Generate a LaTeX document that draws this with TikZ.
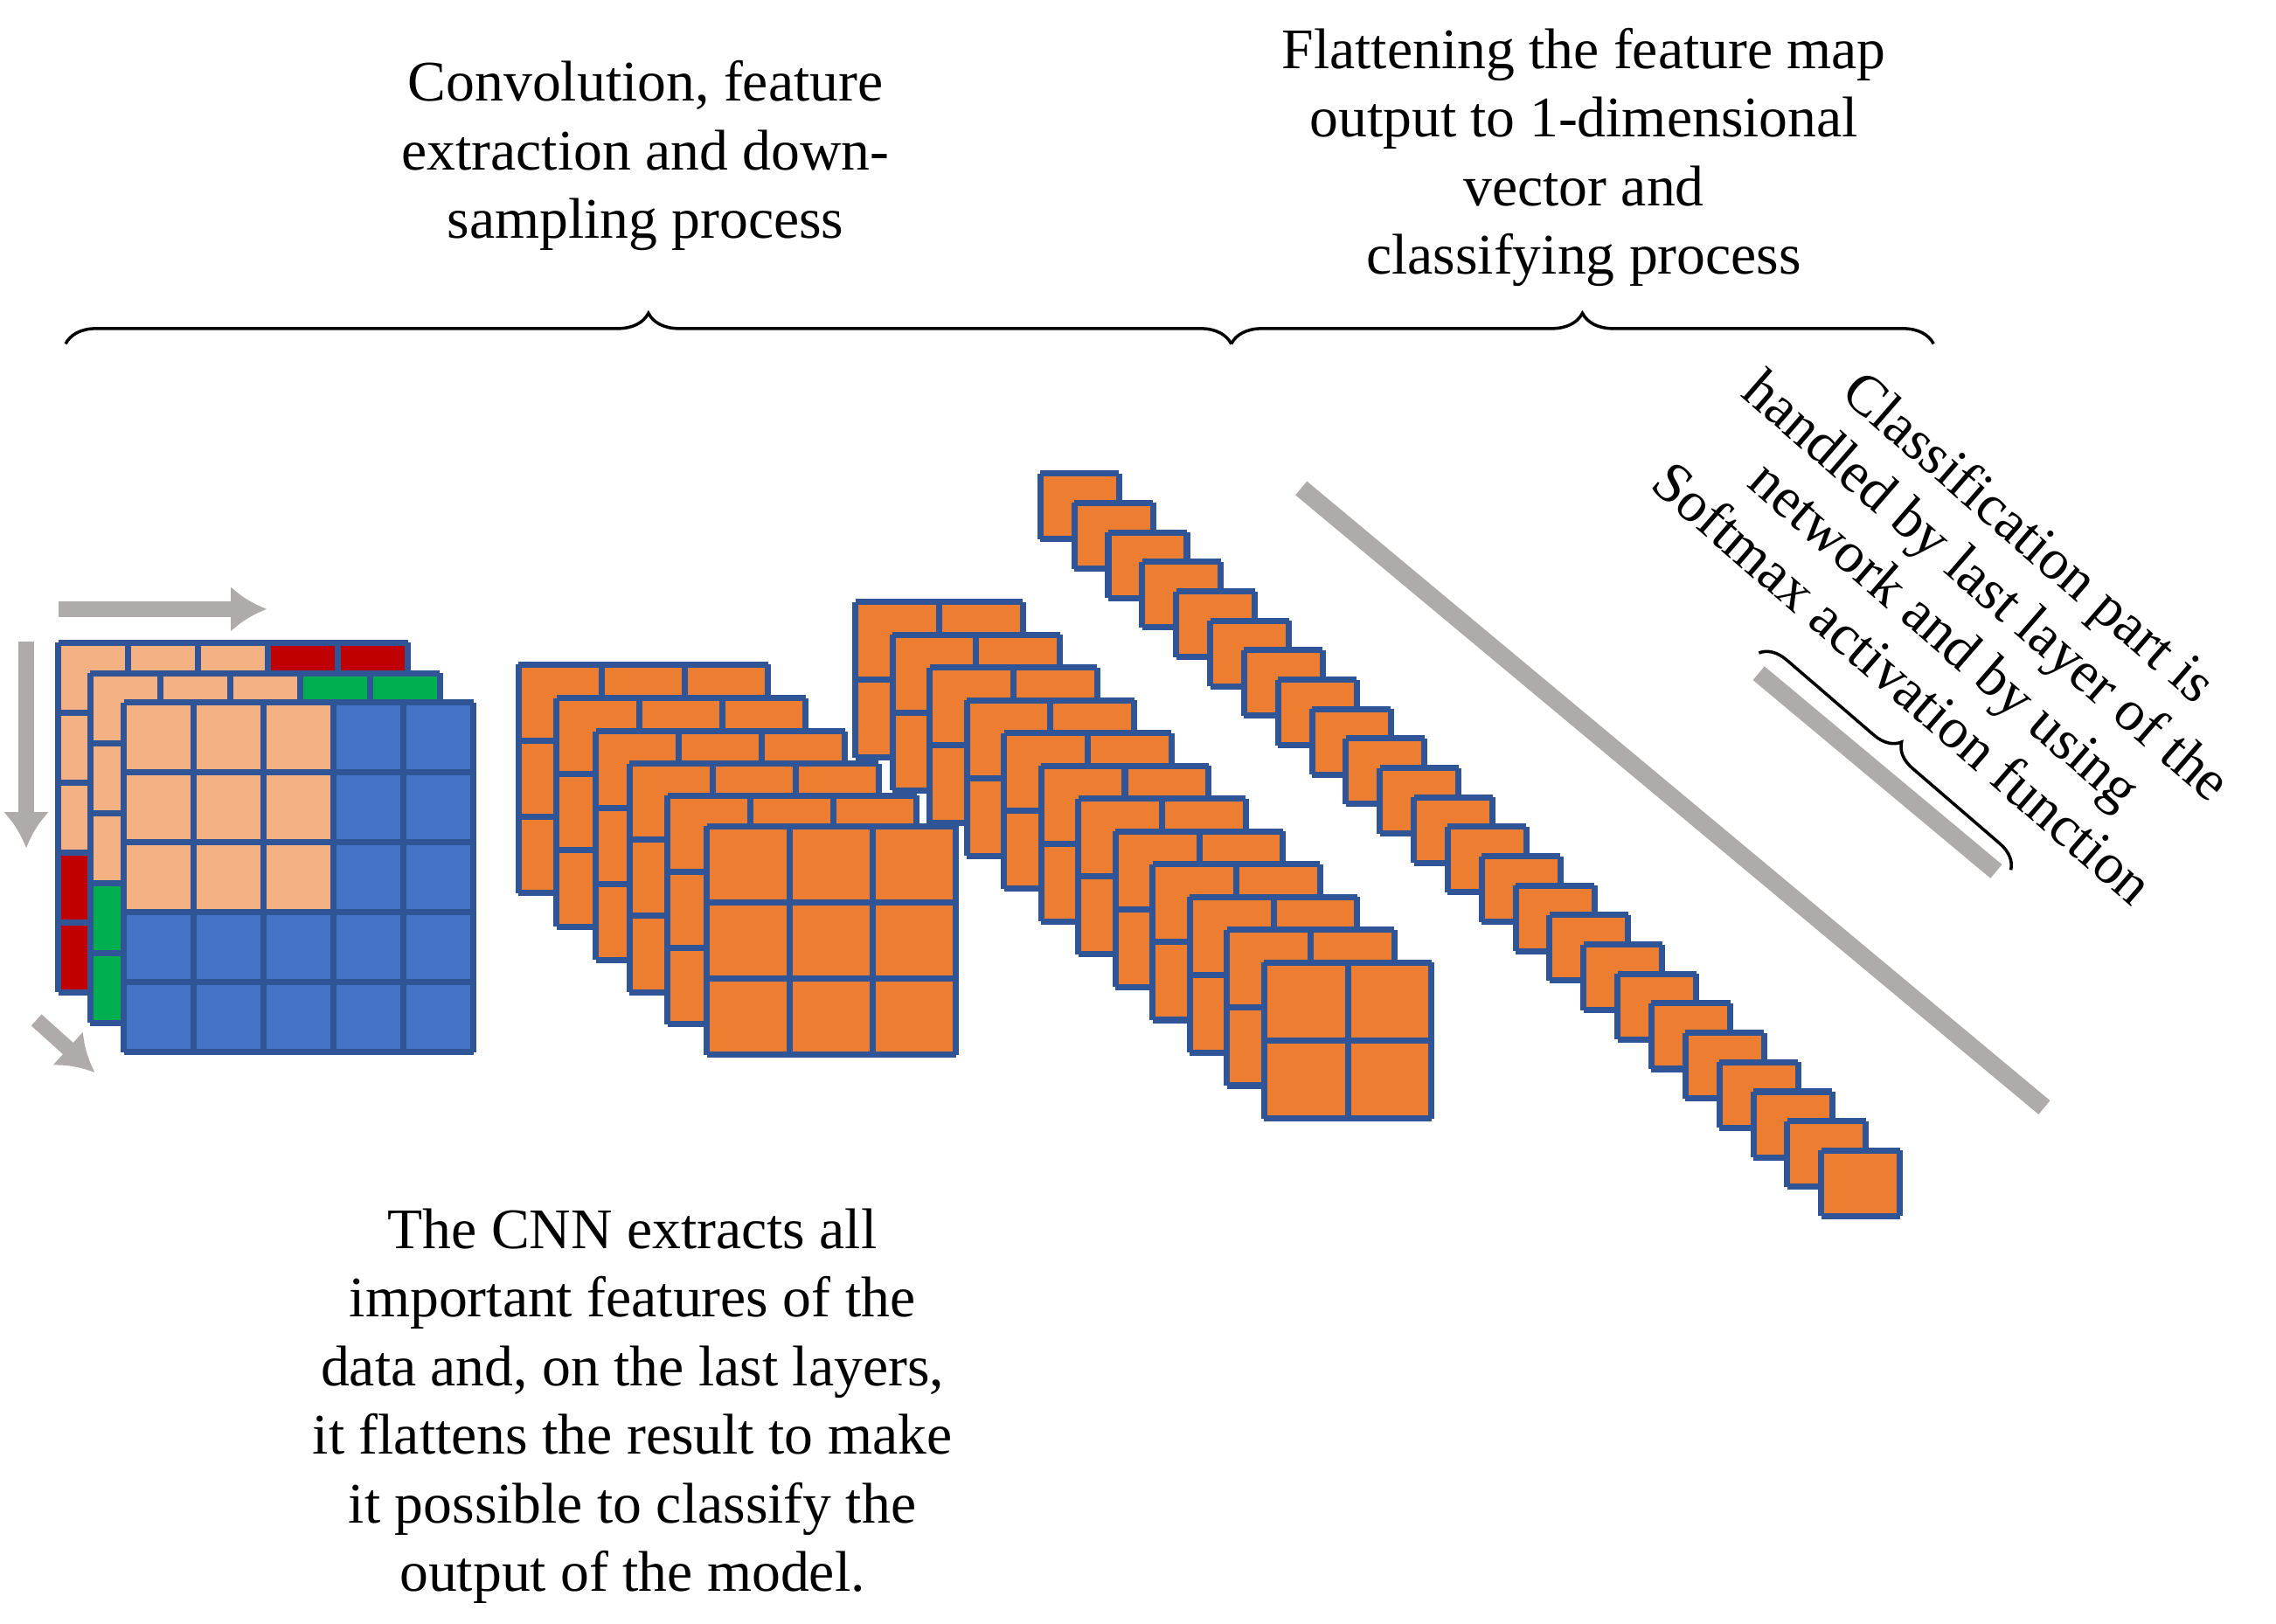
\documentclass[tikz,border=0pt]{standalone}
\usepackage{fontspec}
\setmainfont{Liberation Serif}
\usetikzlibrary{decorations.pathreplacing,arrows.meta}
\definecolor{org}{HTML}{ED7D31}
\definecolor{bord}{HTML}{2F5597}
\definecolor{peach}{HTML}{F4B183}
\definecolor{blu}{HTML}{4472C4}
\definecolor{rd}{HTML}{C00000}
\definecolor{gr}{HTML}{00B050}
\definecolor{gry}{HTML}{AFABAB}
\tikzset{txt/.style={align=center,font=\fontsize{11.2}{13.4}\selectfont},
 garrow/.style={draw=gry,line width=3pt,-{Latex[length=7pt,width=9pt]}},
 gline/.style={draw=gry,line width=3.5pt},
 br/.style={decorate,decoration={brace,mirror,amplitude=#1},line width=0.6pt}}
\newcommand{\mygrid}[6]{%
 \foreach \i in {1,...,#3}{\foreach \j in {1,...,#4}{%
  \fill[org] ({#1+(\i-1)*#5},{#2+(\j-1)*#6}) rectangle ++(#5,#6);}}
 \foreach \i in {0,...,#3}{\draw[bord,line width=1.2pt] ({#1+\i*#5},#2) -- ++(0,{#4*#6});}
 \foreach \j in {0,...,#4}{\draw[bord,line width=1.2pt] (#1,{#2+\j*#6}) -- ++({#3*#5},0);}}
\newcommand{\inputgrid}[3]{%
 \foreach \i in {0,...,4}{\foreach \j in {0,...,4}{%
  \pgfmathsetmacro\c{(\i<3 && \j<3) ? 1 : 0}
  \ifdim\c pt>0pt \fill[peach] ({#1+\i*48},{#2+\j*48}) rectangle ++(48,48);
  \else \fill[#3] ({#1+\i*48},{#2+\j*48}) rectangle ++(48,48);\fi}}
 \foreach \i in {0,...,5}{\draw[bord,line width=1.2pt] ({#1+\i*48},#2) -- ++(0,240);}
 \foreach \j in {0,...,5}{\draw[bord,line width=1.2pt] (#1,{#2+\j*48}) -- ++(240,0);}}
\begin{document}
\begin{tikzpicture}[x=0.01cm,y=-0.01cm]
\useasboundingbox (0,0) rectangle (1562,1114);
\inputgrid{40}{441}{rd}
\inputgrid{62}{462}{gr}
\inputgrid{85}{482}{blu}
\draw[garrow] (40,418) -- (183,418);
\draw[garrow] (18,440) -- (18,582);
\draw[garrow] (25,700) -- (65,736);
\foreach \x/\y in {356/456,382/479,409/502,432/524,458/546,485/567}{\mygrid{\x}{\y}{3}{3}{57}{52.3}}
\foreach \k in {0,...,11}{\mygrid{587+\k*25.5}{413+\k*22.5}{2}{2}{57.5}{53.5}}
\foreach \k in {0,...,23}{\mygrid{714+\k*23.3}{325+\k*20.2}{1}{1}{54}{45}}
\draw[gline] (893,335) -- (1403,760);
\draw[gline] (1207,462) -- (1370,598);
\coordinate (b1) at (1207,448); \coordinate (b2) at (1380,597);
\draw[br=5pt] (b2) -- (b1);
\coordinate (t1) at (45,236); \coordinate (t2) at (845,236); \coordinate (t3) at (1327,236);
\draw[br=6pt] (t2) -- (t1);
\draw[br=6pt] (t3) -- (t2);
\node[txt] (c1) at (443,107) {Convolution, feature\\extraction and down-\\sampling process};
\node[txt] (c2) at (1087,108) {Flattening the feature map\\output to 1-dimensional\\vector and\\classifying process};
\node[txt] (c3) at (434,965) {The CNN extracts all\\important features of the\\data and, on the last layers,\\it flattens the result to make\\it possible to classify the\\output of the model.};
\node[txt,font=\fontsize{11.2}{12.6}\selectfont,rotate=-41] (c4) at (1350,418) {Classification part is\\handled by last layer of the\\network and by using\\Softmax activation function};
\end{tikzpicture}
\end{document}
